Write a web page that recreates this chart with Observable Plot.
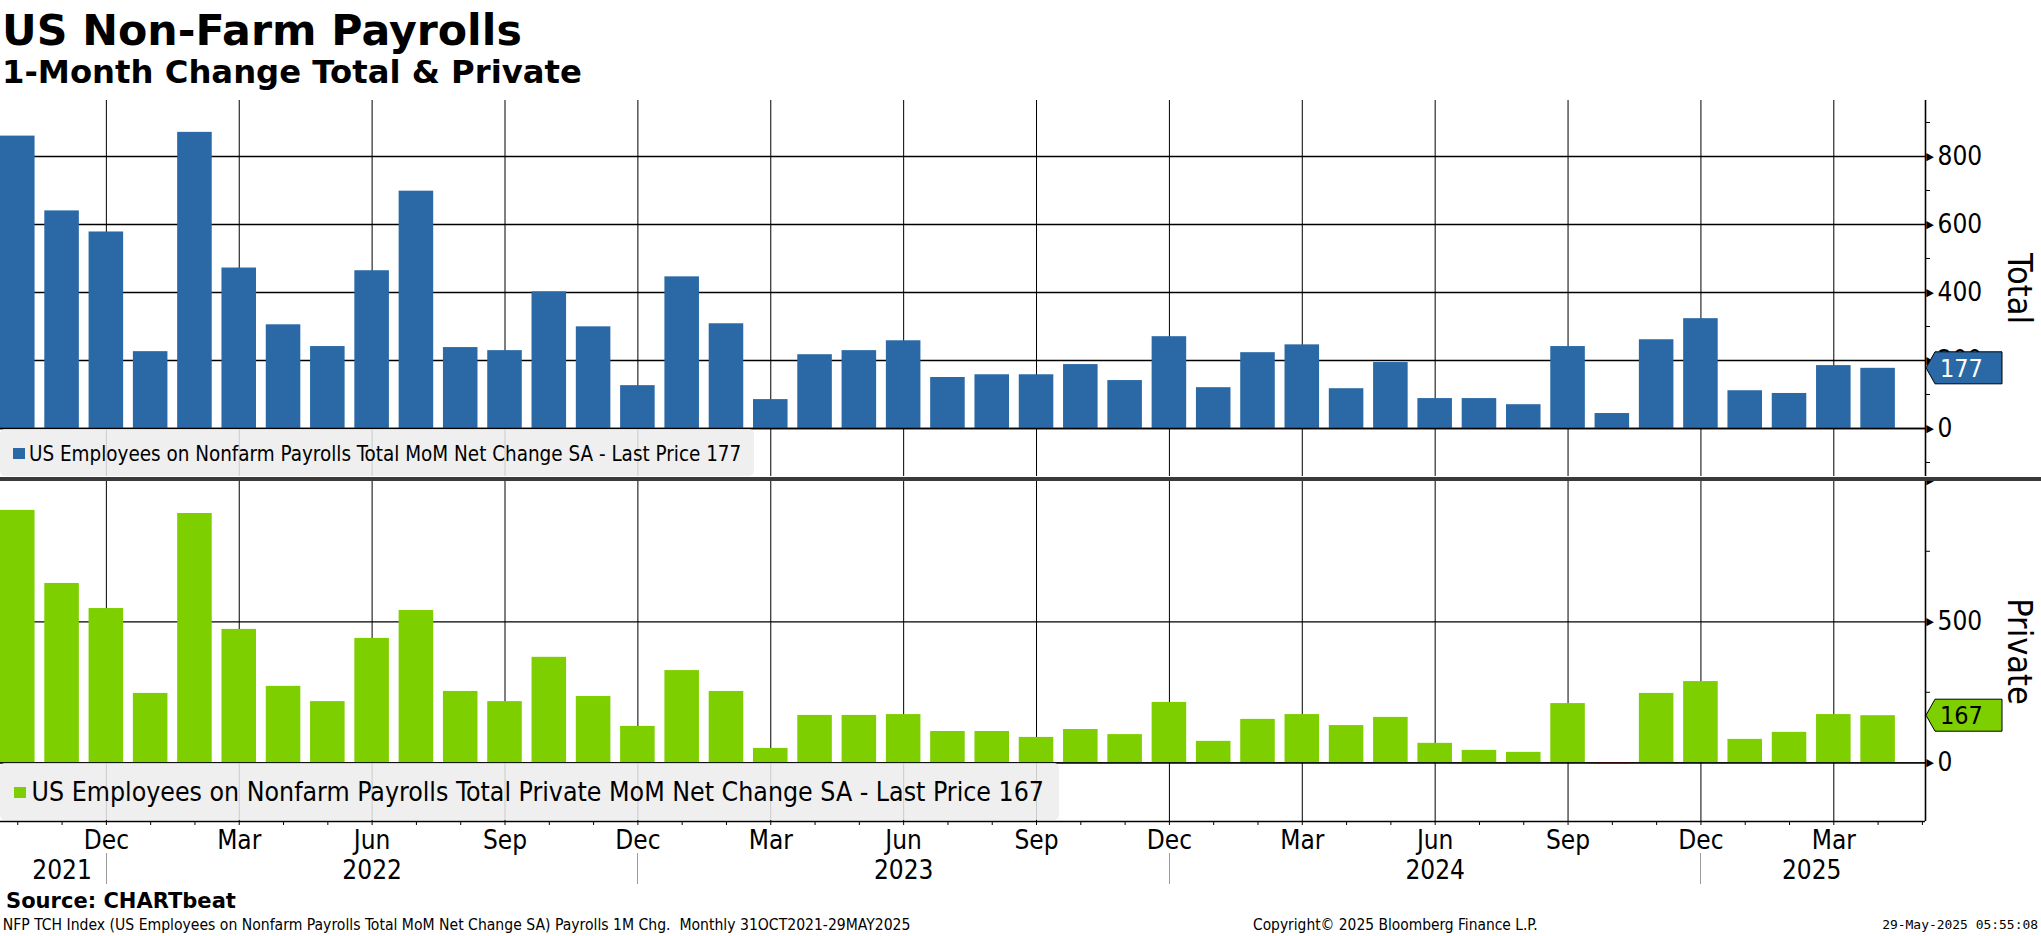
<!DOCTYPE html>
<html><head><meta charset="utf-8">
<script src="https://cdn.jsdelivr.net/npm/d3@7"></script>
<script src="https://cdn.jsdelivr.net/npm/@observablehq/plot@0.6"></script>
<style>
body{margin:0;background:#fff;}
#root{position:relative;width:2041px;height:936px;overflow:hidden;background:#fff;font-family:"DejaVu Sans Condensed","DejaVu Sans",sans-serif;}
.abs{position:absolute;white-space:pre;line-height:1;}
.legend{position:absolute;left:0;background:rgba(236,236,236,0.86);border-radius:5px;}
.mk{position:absolute;}
</style></head><body><div id="root"></div>
<script>
// ---- data ----
const months = ["2021-10","2021-11","2021-12","2022-01","2022-02","2022-03","2022-04","2022-05","2022-06","2022-07","2022-08","2022-09","2022-10","2022-11","2022-12","2023-01","2023-02","2023-03","2023-04","2023-05","2023-06","2023-07","2023-08","2023-09","2023-10","2023-11","2023-12","2024-01","2024-02","2024-03","2024-04","2024-05","2024-06","2024-07","2024-08","2024-09","2024-10","2024-11","2024-12","2025-01","2025-02","2025-03","2025-04"];
const total = [860,640,578,226,871,472,305,241,464,698,238,229,402,299,126,446,308,85,217,229,258,150,158,158,188,141,270,120,223,246,117,194,88,88,70,241,44,261,323,111,103,185,177];
const privateJobs = [895,636,547,246,884,473,271,217,441,540,253,217,374,235,129,327,253,51,168,168,171,111,111,90,118,100,214,76,154,171,132,161,69,44,37,210,-5,246,288,83,108,171,167];
const monthNames = {"12":"Dec","03":"Mar","06":"Jun","09":"Sep"};
const yearLabels = ["2021","2022","2023","2024","2025"];
const yearCenters = [1, 8, 20, 32, 40.5];
const totalTicks = [0,200,400,600,800];
const totalMinor = [-100,100,300,500,700,900];
const privTicks = [0,500];
const privArrows = [0,500,1000];
const privMinor = [250,750];
const legendTotal = "US Employees on Nonfarm Payrolls Total MoM Net Change SA - Last Price 177";
const legendPrivate = "US Employees on Nonfarm Payrolls Total Private MoM Net Change SA - Last Price 167";

// ---- style ----
const BLUE = "#2a69a6", GREEN = "#7ecf00", RED = "#ff1a1a";
const FONT = '"DejaVu Sans Condensed","DejaVu Sans",sans-serif';
const W = 2041, MR = 116, HALF = 0.39;
const xDomain = [-0.39, months.length + 0.07];

const data = months.map((m, i) => ({i, m, total: total[i], priv: privateJobs[i]}));
const gridIdx = data.filter(d => monthNames[d.m.slice(5)]).map(d => d.i);
const decIdx = data.filter(d => d.m.slice(5) === "12").map(d => d.i);
const axisIdx = d3.range(months.length + 1);
const monthLabel = i => (i < months.length ? (monthNames[months[i].slice(5)] || "") : "");
const yearAt = new Map(yearCenters.map((c, k) => [c, yearLabels[k]]));

function lastLabel(value, fill, textFill) {
  return (index, scales, values, dim) => {
    const x0 = dim.width - dim.marginRight;
    const y = scales.y(value);
    const g = d3.create("svg:g");
    g.append("path")
      .attr("d", `M${x0+1},${y}L${x0+10},${y-16}H${x0+77}V${y+16}H${x0+10}Z`)
      .attr("fill", fill).attr("stroke", "black").attr("stroke-width", 1);
    g.append("text").attr("x", x0 + 15).attr("y", y).attr("dy", "0.36em")
      .attr("text-anchor", "start").attr("fill", textFill).attr("font-size", 25).text(String(value));
    return g.node();
  };
}
function yearSeparators(idx) {
  return (index, scales, values, dim) => {
    const yb = dim.height - dim.marginBottom;
    const g = d3.create("svg:g");
    for (const i of idx) {
      const x = Math.round(scales.x(i)) + 0.5;
      g.append("line").attr("x1", x).attr("x2", x).attr("y1", yb + 32).attr("y2", yb + 63)
        .attr("stroke", "#9a9a9a").attr("stroke-width", 1);
    }
    return g.node();
  };
}

const common = {
  width: W, marginLeft: 0, marginRight: MR, marginTop: 0,
  style: {fontFamily: FONT, fontSize: "26px", color: "black", background: "transparent", overflow: "visible"},
  color: {type: "identity"}
};

const p1 = Plot.plot({
  ...common, height: 377, marginBottom: 1,
  x: {type: "linear", domain: xDomain, axis: null},
  y: {domain: [-141.2, 964.7], axis: null, label: null},
  marks: [
    Plot.ruleY(totalTicks, {stroke: "black", strokeWidth: 1.3}),
    Plot.ruleX(gridIdx, {stroke: "black", strokeWidth: 1}),
    Plot.rect(data, {x1: d => d.i - HALF, x2: d => d.i + HALF, y1: d => 0, y2: "total", fill: d => d.total < 0 ? RED : BLUE}),
    Plot.ruleY([0], {stroke: "black", strokeWidth: 1.3}),
    Plot.ruleX([xDomain[1]], {stroke: "black", strokeWidth: 1.6}),
    Plot.axisY(totalMinor, {anchor: "right", tickSize: 4, tickFormat: () => "", label: null}),
    Plot.axisY(totalTicks, {anchor: "right", tickSize: 0, tickPadding: 12, fontSize: 26, label: null}),
    Plot.text(totalTicks, {x: xDomain[1], y: d => d, text: () => "▶", dx: 4.5, fontSize: 11, fill: "black"}),
    Plot.text(["Total"], {frameAnchor: "right", text: d => d, rotate: 90, dx: 93, textAnchor: "middle", fontSize: 34, fill: "black"}),
    lastLabel(total[total.length - 1], BLUE, "white")
  ]
});

const p2 = Plot.plot({
  ...common, height: 440, marginBottom: 100,
  x: {type: "linear", domain: xDomain, axis: null},
  y: {domain: [-208.2, 997.5], axis: null, label: null},
  marks: [
    Plot.ruleY(privTicks, {stroke: "black", strokeWidth: 1.3}),
    Plot.ruleX(gridIdx, {stroke: "black", strokeWidth: 1}),
    Plot.rect(data, {x1: d => d.i - HALF, x2: d => d.i + HALF, y1: d => 0, y2: "priv", fill: d => d.priv < 0 ? RED : GREEN}),
    Plot.ruleY([0], {stroke: "black", strokeWidth: 1.3}),
    Plot.ruleX([xDomain[1]], {stroke: "black", strokeWidth: 1.6}),
    Plot.ruleY([-208.2], {stroke: "black", strokeWidth: 1.6}),
    Plot.axisY(privMinor, {anchor: "right", tickSize: 4, tickFormat: () => "", label: null}),
    Plot.axisY(privTicks, {anchor: "right", tickSize: 0, tickPadding: 12, fontSize: 26, label: null}),
    Plot.text(privArrows, {x: xDomain[1], y: d => d, text: () => "▶", dx: 4.5, fontSize: 11, fill: "black"}),
    Plot.text(["Private"], {frameAnchor: "right", text: d => d, rotate: 90, dx: 93, textAnchor: "middle", fontSize: 34, fill: "black"}),
    Plot.axisX(axisIdx, {anchor: "bottom", tickSize: 4, tickPadding: 5, fontSize: 26, tickFormat: monthLabel, label: null}),
    Plot.axisX(yearCenters, {anchor: "bottom", tickSize: 0, tickPadding: 39, fontSize: 26, tickFormat: d => yearAt.get(d), label: null}),
    yearSeparators(decIdx),
    lastLabel(privateJobs[privateJobs.length - 1], GREEN, "black")
  ]
});

// ---- layout ----
const root = document.getElementById("root");
function place(el, left, top) { el.style.position = "absolute"; el.style.left = left + "px"; el.style.top = top + "px"; root.appendChild(el); return el; }
function box(cls, css) { const d = document.createElement("div"); d.className = cls; Object.assign(d.style, css); root.appendChild(d); return d; }
// text placed by baseline and fitted to the width it has in the reference
function textAt(text, {left, right, baseline, size, width, family, weight}) {
  const d = document.createElement("div");
  d.className = "abs";
  d.textContent = text;
  d.style.fontSize = size + "px";
  if (family) d.style.fontFamily = family;
  if (weight) d.style.fontWeight = weight;
  d.style.top = "0px";
  root.appendChild(d);
  let fs = size;
  if (width) {
    const w = d.getBoundingClientRect().width;
    if (w > 0) fs = size * width / w;
    d.style.fontSize = fs + "px";
  }
  d.style.top = (baseline - 0.846 * fs) + "px";
  if (right != null) d.style.right = right + "px"; else d.style.left = left + "px";
  return d;
}

place(p1, 0, 100);
place(p2, 0, 481);
box("abs", {left: "0px", top: "477px", width: "2041px", height: "4px", background: "#3a3a3a"});

const BOLD = '"DejaVu Sans",sans-serif';
textAt("US Non-Farm Payrolls", {left: 2, baseline: 45, size: 42, width: 520, family: BOLD, weight: "bold"});
textAt("1-Month Change Total & Private", {left: 2, baseline: 83, size: 31, width: 580, family: BOLD, weight: "bold"});

box("legend", {top: "429px", width: "754px", height: "47px"});
box("mk", {left: "13px", top: "448px", width: "12px", height: "11px", background: BLUE});
textAt(legendTotal, {left: 29, baseline: 461, size: 20, width: 713});

box("legend", {top: "763px", width: "1059px", height: "57px"});
box("mk", {left: "14px", top: "787px", width: "12px", height: "11px", background: GREEN});
textAt(legendPrivate, {left: 31.6, baseline: 801, size: 26, width: 1013});

textAt("Source: CHARTbeat", {left: 6, baseline: 908.3, size: 21, width: 230, family: BOLD, weight: "bold"});
textAt("NFP TCH Index (US Employees on Nonfarm Payrolls Total MoM Net Change SA) Payrolls 1M Chg.  Monthly 31OCT2021-29MAY2025", {left: 2.7, baseline: 931, size: 15, width: 908});
textAt("Copyright\u00a9 2025 Bloomberg Finance L.P.", {left: 1253, baseline: 931, size: 15, width: 285});
textAt("29-May-2025 05:55:08", {right: 3, baseline: 930, size: 13, width: 156, family: '"DejaVu Sans Mono",monospace'});
</script></body></html>
